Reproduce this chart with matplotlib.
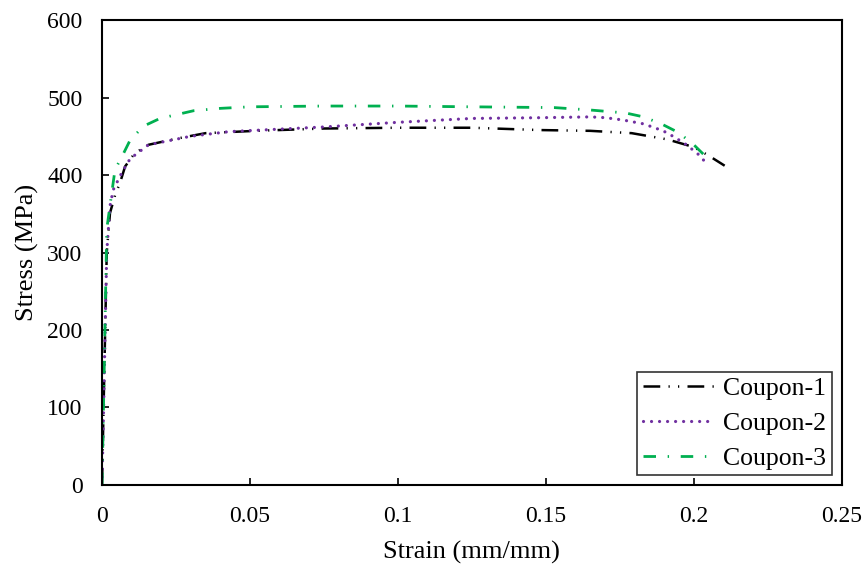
import matplotlib
matplotlib.use("Agg")
import matplotlib.pyplot as plt

plt.rcParams['font.family'] = ['Liberation Serif', 'DejaVu Serif']

strain1 = [0.0, 0.0008, 0.0016, 0.0027, 0.0045, 0.0061, 0.0078, 0.011, 0.0157, 0.0253, 0.035,
           0.052, 0.075, 0.1, 0.125, 0.148, 0.165, 0.179, 0.191, 0.2, 0.205, 0.2104]
stress1 = [0, 150, 300, 351, 375, 390, 411, 428, 439, 447, 454,
           457, 460, 461, 461, 458, 457, 454, 446, 436, 425, 412]

strain2 = [0.0, 0.0008, 0.0016, 0.0027, 0.0038, 0.0067, 0.0095, 0.0157, 0.03, 0.043, 0.059,
           0.075, 0.1, 0.125, 0.149, 0.165, 0.170, 0.176, 0.183, 0.1896, 0.1934, 0.1975,
           0.2014, 0.205]
stress2 = [0, 150, 300, 360, 381, 403, 421, 439, 450, 456, 459,
           462, 468, 473, 474, 475, 474, 471, 466, 457, 449, 439,
           427, 412]

strain3 = [0.0, 0.0008, 0.0016, 0.0033, 0.0044, 0.0069, 0.0095, 0.014, 0.0196, 0.031, 0.04,
           0.05, 0.075, 0.1, 0.125, 0.1528, 0.1646, 0.177, 0.183, 0.189, 0.1947, 0.1997, 0.2037]
stress3 = [0, 160, 330, 377, 407, 425, 445, 463, 473, 483, 486,
           488, 489, 489, 488, 487, 484, 480, 475, 466, 455, 440, 425]

labels = ['Coupon-1', 'Coupon-2', 'Coupon-3']

fig = plt.figure(figsize=(8.63, 5.64), dpi=100)
ax = fig.add_axes([0.1182, 0.1401, 0.8573, 0.8244])

ax.plot(strain1, stress1, color='black', lw=1.8,
        linestyle=(0, (6.7, 3.3, 0.5, 3.3, 0.5, 3.3)), label=labels[0])
ax.plot(strain2, stress2, color='#7030A0', lw=2.3, dash_capstyle='round',
        linestyle=(0, (0.01, 2.5)), label=labels[1])
ax.plot(strain3, stress3, color='#00B050', lw=2.0,
        linestyle=(0, (4.5, 4.2, 0.5, 4.2)), label=labels[2])

ax.set_xlim(0, 0.25)
ax.set_ylim(0, 600)
ax.set_xticks([0, 0.05, 0.1, 0.15, 0.2, 0.25])
ax.set_xticklabels(['0', '0.05', '0.1', '0.15', '0.2', '0.25'])
ax.set_yticks(range(0, 601, 100))
ax.tick_params(direction='in', length=5, width=1.2, labelsize=17)
ax.tick_params(axis='x', pad=15)
ax.tick_params(axis='y', pad=14)
for s in ax.spines.values():
    s.set_linewidth(1.5)

ax.set_xlabel('Strain (mm/mm)', fontsize=19, labelpad=10)
ax.set_ylabel('Stress (MPa)', fontsize=19, labelpad=6)

leg = ax.legend(loc='lower right', fontsize=18.5, frameon=True, fancybox=False,
                edgecolor='black', handlelength=2.8, borderaxespad=0.4,
                labelspacing=0.45, handletextpad=0.35, borderpad=0.2)
leg.get_frame().set_linewidth(1.2)

fig.savefig('out.png', dpi=100)
